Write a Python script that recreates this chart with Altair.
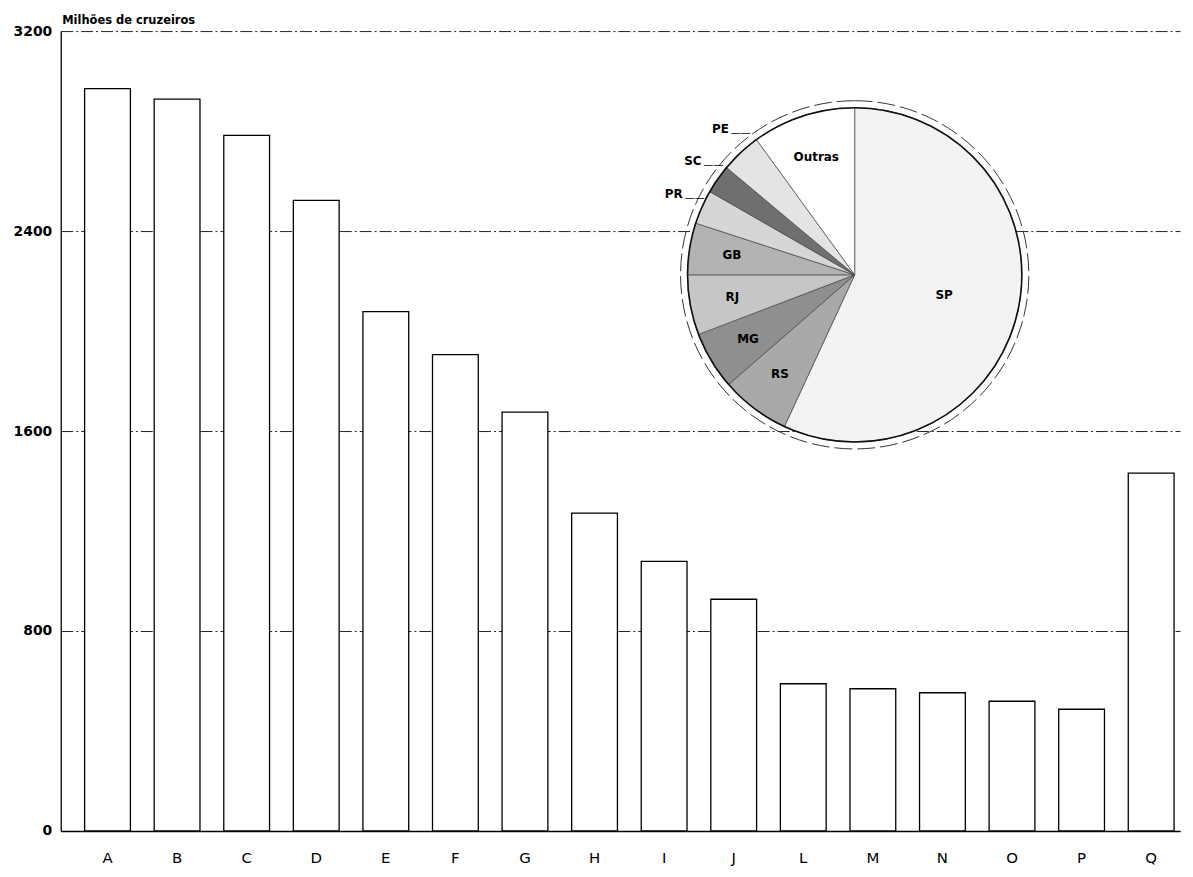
import altair as alt
import pandas as pd

# ---- bar data ----
letras = ["A", "B", "C", "D", "E", "F", "G", "H", "I", "J", "L", "M", "N", "O", "P", "Q"]
valores = [2970, 2928, 2783, 2523, 2078, 1906, 1676, 1272, 1079, 927, 589, 569, 553, 519, 487, 1432]

# ---- pie data (percent shares) ----
estados = ["SP", "RS", "MG", "RJ", "GB", "PR", "SC", "PE", "Outras"]
percentuais = [56.9, 6.7, 5.6, 5.8, 5.0, 3.3, 2.8, 3.9, 10.0]
ordem = list(range(len(estados)))

# styles
tons = ["#f3f3f3", "#a9a9a9", "#8f8f8f", "#c6c6c6", "#b2b2b2", "#d6d6d6", "#6f6f6f", "#e4e4e4", "#ffffff"]
rotulos_internos = ["Outras", "GB", "RJ", "MG", "RS"]
rotulos_externos = ["PE", "SC", "PR"]

FONT = "DejaVu Sans"
CX, CY = 798, 245

bar_df = pd.DataFrame({"letra": letras, "valor": valores})
pie_df = pd.DataFrame({"estado": estados, "pct": percentuais, "ordem": ordem})
one_df = pd.DataFrame({"k": [0]})

bars = alt.Chart(bar_df).mark_bar(fill="white", stroke="black", strokeWidth=1.3).encode(
    x=alt.X(
        "letra:N",
        sort=letras,
        scale=alt.Scale(paddingInner=0.342, paddingOuter=0.2146, align=0.8),
        axis=alt.Axis(
            title=None, labelAngle=0, ticks=False, domain=True, domainColor="black",
            domainWidth=1.3, labelFontSize=15, labelFont=FONT, labelColor="black",
            labelPadding=20, grid=False,
        ),
    ),
    y=alt.Y(
        "valor:Q",
        scale=alt.Scale(domain=[0, 3200], nice=False),
        axis=alt.Axis(
            values=[0, 800, 1600, 2400, 3200], format="d",
            title="Milhões de cruzeiros", titleAngle=0, titleAlign="left",
            titleBaseline="bottom", titleX=1, titleY=-6, titleFont=FONT,
            titleFontSize=11.5, titleFontWeight="bold", titleColor="black",
            grid=True, gridDash=[12, 3, 2, 3], gridColor="#222", gridWidth=1,
            ticks=False, domain=True, domainColor="black", domainWidth=1.3,
            labelPadding=9, labelFont=FONT, labelFontSize=14, labelFontWeight="bold",
            labelColor="black",
        ),
    ),
)

base = alt.Chart(pie_df).encode(
    theta=alt.Theta("pct:Q", stack=True),
    order=alt.Order("ordem:Q"),
    x=alt.value(CX),
    y=alt.value(CY),
)

arcs = base.mark_arc(outerRadius=168, stroke="#444", strokeWidth=0.7).encode(
    color=alt.Color("estado:N", scale=alt.Scale(domain=estados, range=tons), legend=None)
)

ring_outer = alt.Chart(one_df).mark_arc(
    theta=0, theta2=6.2832, outerRadius=175, innerRadius=0, fillOpacity=0,
    stroke="#333", strokeWidth=1, strokeDash=[18, 5]
).encode(x=alt.value(CX), y=alt.value(CY))

ring_inner = alt.Chart(one_df).mark_arc(
    theta=0, theta2=6.2832, outerRadius=168, innerRadius=0, fillOpacity=0,
    stroke="#111", strokeWidth=1.6
).encode(x=alt.value(CX), y=alt.value(CY))

txt_in = base.mark_text(radius=125, font=FONT, fontSize=12, fontWeight="bold", color="black").encode(
    text=alt.condition(
        alt.FieldOneOfPredicate(field="estado", oneOf=rotulos_internos),
        alt.Text("estado:N"), alt.value("")
    )
)
txt_sp = base.mark_text(radius=92, font=FONT, fontSize=12, fontWeight="bold", color="black").encode(
    text=alt.condition(
        alt.FieldEqualPredicate(field="estado", equal="SP"),
        alt.Text("estado:N"), alt.value("")
    )
)
txt_out = base.mark_text(radius=200, font=FONT, fontSize=12, fontWeight="bold", color="black",
                         align="right", dx=10).encode(
    text=alt.condition(
        alt.FieldOneOfPredicate(field="estado", oneOf=rotulos_externos),
        alt.Text("estado:N"), alt.value("")
    )
)
txt_lead = base.mark_text(radius=200, font=FONT, fontSize=10, color="black", align="left",
                          dx=12, dy=4).encode(
    text=alt.condition(
        alt.FieldOneOfPredicate(field="estado", oneOf=rotulos_externos),
        alt.value("——"), alt.value("")
    )
)

chart = alt.layer(bars, arcs, ring_outer, ring_inner, txt_in, txt_sp, txt_out, txt_lead).properties(
    width=1125,
    height=804,
    padding={"left": 53, "top": 21, "right": 5, "bottom": 36},
    autosize=alt.AutoSizeParams(type="none"),
    background="white",
).configure_view(stroke=None)

chart.save("out.html", embed_options={"renderer": "svg", "actions": False})
